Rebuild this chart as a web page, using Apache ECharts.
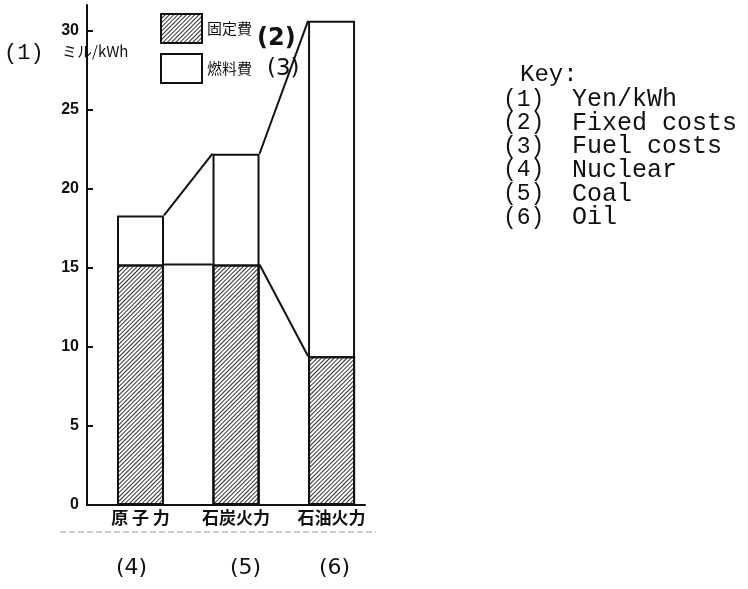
<!DOCTYPE html>
<html>
<head>
<meta charset="utf-8">
<script src="https://cdn.jsdelivr.net/npm/echarts@6/dist/echarts.min.js"></script>
<style>
  html, body { margin: 0; padding: 0; background: #fff; }
  #chart { width: 748px; height: 589px; }
</style>
</head>
<body>
<div id="chart"></div>
<script>
// 発電原価 (ミル/kWh)
const categories = ["原 子 力", "石炭火力", "石油火力"];
const catKeys = ["(4)", "(5)", "(6)"];
const fixedCost = [15.2, 15.2, 9.4];
const fuelCost = [3.1, 7.0, 21.2];
const yTicks = [0, 5, 10, 15, 20, 25, 30];
const keyNums = ["(1)", "(2)", "(3)", "(4)", "(5)", "(6)"];
const keyNames = ["Yen/kWh", "Fixed costs", "Fuel costs", "Nuclear", "Coal", "Oil"];

const BAR_W = 47;
const INK = "#111";
const MONO = "'Liberation Mono', 'DejaVu Sans Mono', monospace";
const CJK = "'Noto Sans CJK JP', sans-serif";

const hatch = {
  symbol: "rect",
  symbolSize: 1,
  dashArrayX: [1, 0],
  dashArrayY: [1, 2],
  rotation: -Math.PI / 4,
  color: "#333",
};

// 合計 = 固定費 + 燃料費
const totalCost = fixedCost.map((v, i) => v + fuelCost[i]);

// 棒と棒の間の連結線
const links = [];
for (let i = 0; i < categories.length - 1; i++) {
  links.push([i, fixedCost[i], totalCost[i], fixedCost[i + 1], totalCost[i + 1]]);
}

function renderLink(params, api) {
  const i = api.value(0);
  const hw = BAR_W / 2;
  const a1 = api.coord([i, api.value(1)]);
  const a2 = api.coord([i + 1, api.value(3)]);
  const b1 = api.coord([i, api.value(2)]);
  const b2 = api.coord([i + 1, api.value(4)]);
  const style = { stroke: INK, lineWidth: 2 };
  return {
    type: "group",
    children: [
      { type: "line", shape: { x1: a1[0] + hw, y1: a1[1], x2: a2[0] - hw, y2: a2[1] }, style: style },
      { type: "line", shape: { x1: b1[0] + hw, y1: b1[1], x2: b2[0] - hw, y2: b2[1] }, style: style },
    ],
  };
}

// 凡例 Key 欄
const keyTexts = [
  { type: "text", left: 520, top: 63, style: { text: "Key:", font: "24px " + MONO, fill: INK } },
];
keyNums.forEach((n, k) => {
  keyTexts.push({ type: "text", left: 503, top: 88 + k * 23.6, style: { text: n, font: "23px " + MONO, fill: INK } });
  keyTexts.push({ type: "text", left: 572, top: 87 + k * 23.6, style: { text: keyNames[k], font: "25px " + MONO, fill: INK } });
});

const option = {
  backgroundColor: "#fff",
  animation: false,
  grid: { left: 87, right: 383, top: 5, bottom: 84 },
  legend: {
    data: ["固定費", "燃料費"],
    orient: "vertical",
    left: 160,
    top: 13,
    padding: 0,
    itemWidth: 41,
    itemHeight: 29,
    itemGap: 9,
    itemTextGap: 4,
    icon: "rect",
    textStyle: { fontFamily: CJK, fontSize: 15, color: INK },
    itemStyle: { borderColor: INK, borderWidth: 2 },
  },
  xAxis: {
    type: "value",
    min: -0.56,
    max: 2.35,
    splitLine: { show: false },
    axisTick: { show: false },
    axisLine: { show: true, lineStyle: { color: INK, width: 2 } },
    axisLabel: {
      customValues: [0, 1, 2],
      formatter: (v) => categories[Math.round(v)],
      margin: 4,
      fontFamily: CJK,
      fontSize: 17,
      fontWeight: "bold",
      color: INK,
    },
  },
  yAxis: {
    type: "value",
    min: 0,
    max: 31.6,
    splitLine: { show: false },
    axisLine: { show: true, onZero: false, lineStyle: { color: INK, width: 2 } },
    axisTick: { inside: true, length: 6, customValues: yTicks, lineStyle: { color: INK, width: 2 } },
    axisLabel: {
      customValues: yTicks,
      margin: 8,
      fontFamily: "'Liberation Sans', Arial, sans-serif",
      fontWeight: "bold",
      fontSize: 16,
      color: INK,
    },
  },
  series: [
    {
      // 白い合計棒を下に描き、固定費の斜線棒を重ねる
      name: "燃料費",
      type: "bar",
      barWidth: BAR_W,
      barGap: "-100%",
      data: totalCost.map((v, i) => [i, v]),
      itemStyle: { color: "#fff", borderColor: INK, borderWidth: 2 },
      z: 2,
    },
    {
      name: "固定費",
      type: "bar",
      barWidth: BAR_W,
      barGap: "-100%",
      data: fixedCost.map((v, i) => [i, v]),
      itemStyle: { color: "#fff", borderColor: INK, borderWidth: 2, decal: hatch },
      z: 3,
    },
    {
      type: "custom",
      renderItem: renderLink,
      data: links,
      encode: { x: 0, y: [1, 2, 3, 4] },
      silent: true,
      z: 4,
    },
  ],
  graphic: [
    { type: "text", left: 4, top: 42, style: { text: "(1)", font: "22px " + MONO, fill: INK } },
    { type: "text", left: 62, top: 44, style: { text: "ミル/kWh", font: "15px " + CJK, fill: INK } },
    { type: "text", left: 257, top: 27, style: { text: "(2)", font: "bold 24px 'DejaVu Sans', sans-serif", fill: INK } },
    { type: "text", left: 267, top: 58, style: { text: "(3)", font: "23px 'DejaVu Sans', sans-serif", fill: INK } },
    {
      type: "line",
      shape: { x1: 60, y1: 532, x2: 376, y2: 532 },
      style: { stroke: "#999", lineWidth: 1, lineDash: [6, 3] },
    },
    { type: "text", left: 116, top: 557, style: { text: catKeys[0], font: "22px 'DejaVu Sans', sans-serif", fill: INK } },
    { type: "text", left: 230, top: 557, style: { text: catKeys[1], font: "22px 'DejaVu Sans', sans-serif", fill: INK } },
    { type: "text", left: 319, top: 557, style: { text: catKeys[2], font: "22px 'DejaVu Sans', sans-serif", fill: INK } },
  ].concat(keyTexts),
};

const chart = echarts.init(document.getElementById("chart"));
chart.setOption(option);
</script>
</body>
</html>
